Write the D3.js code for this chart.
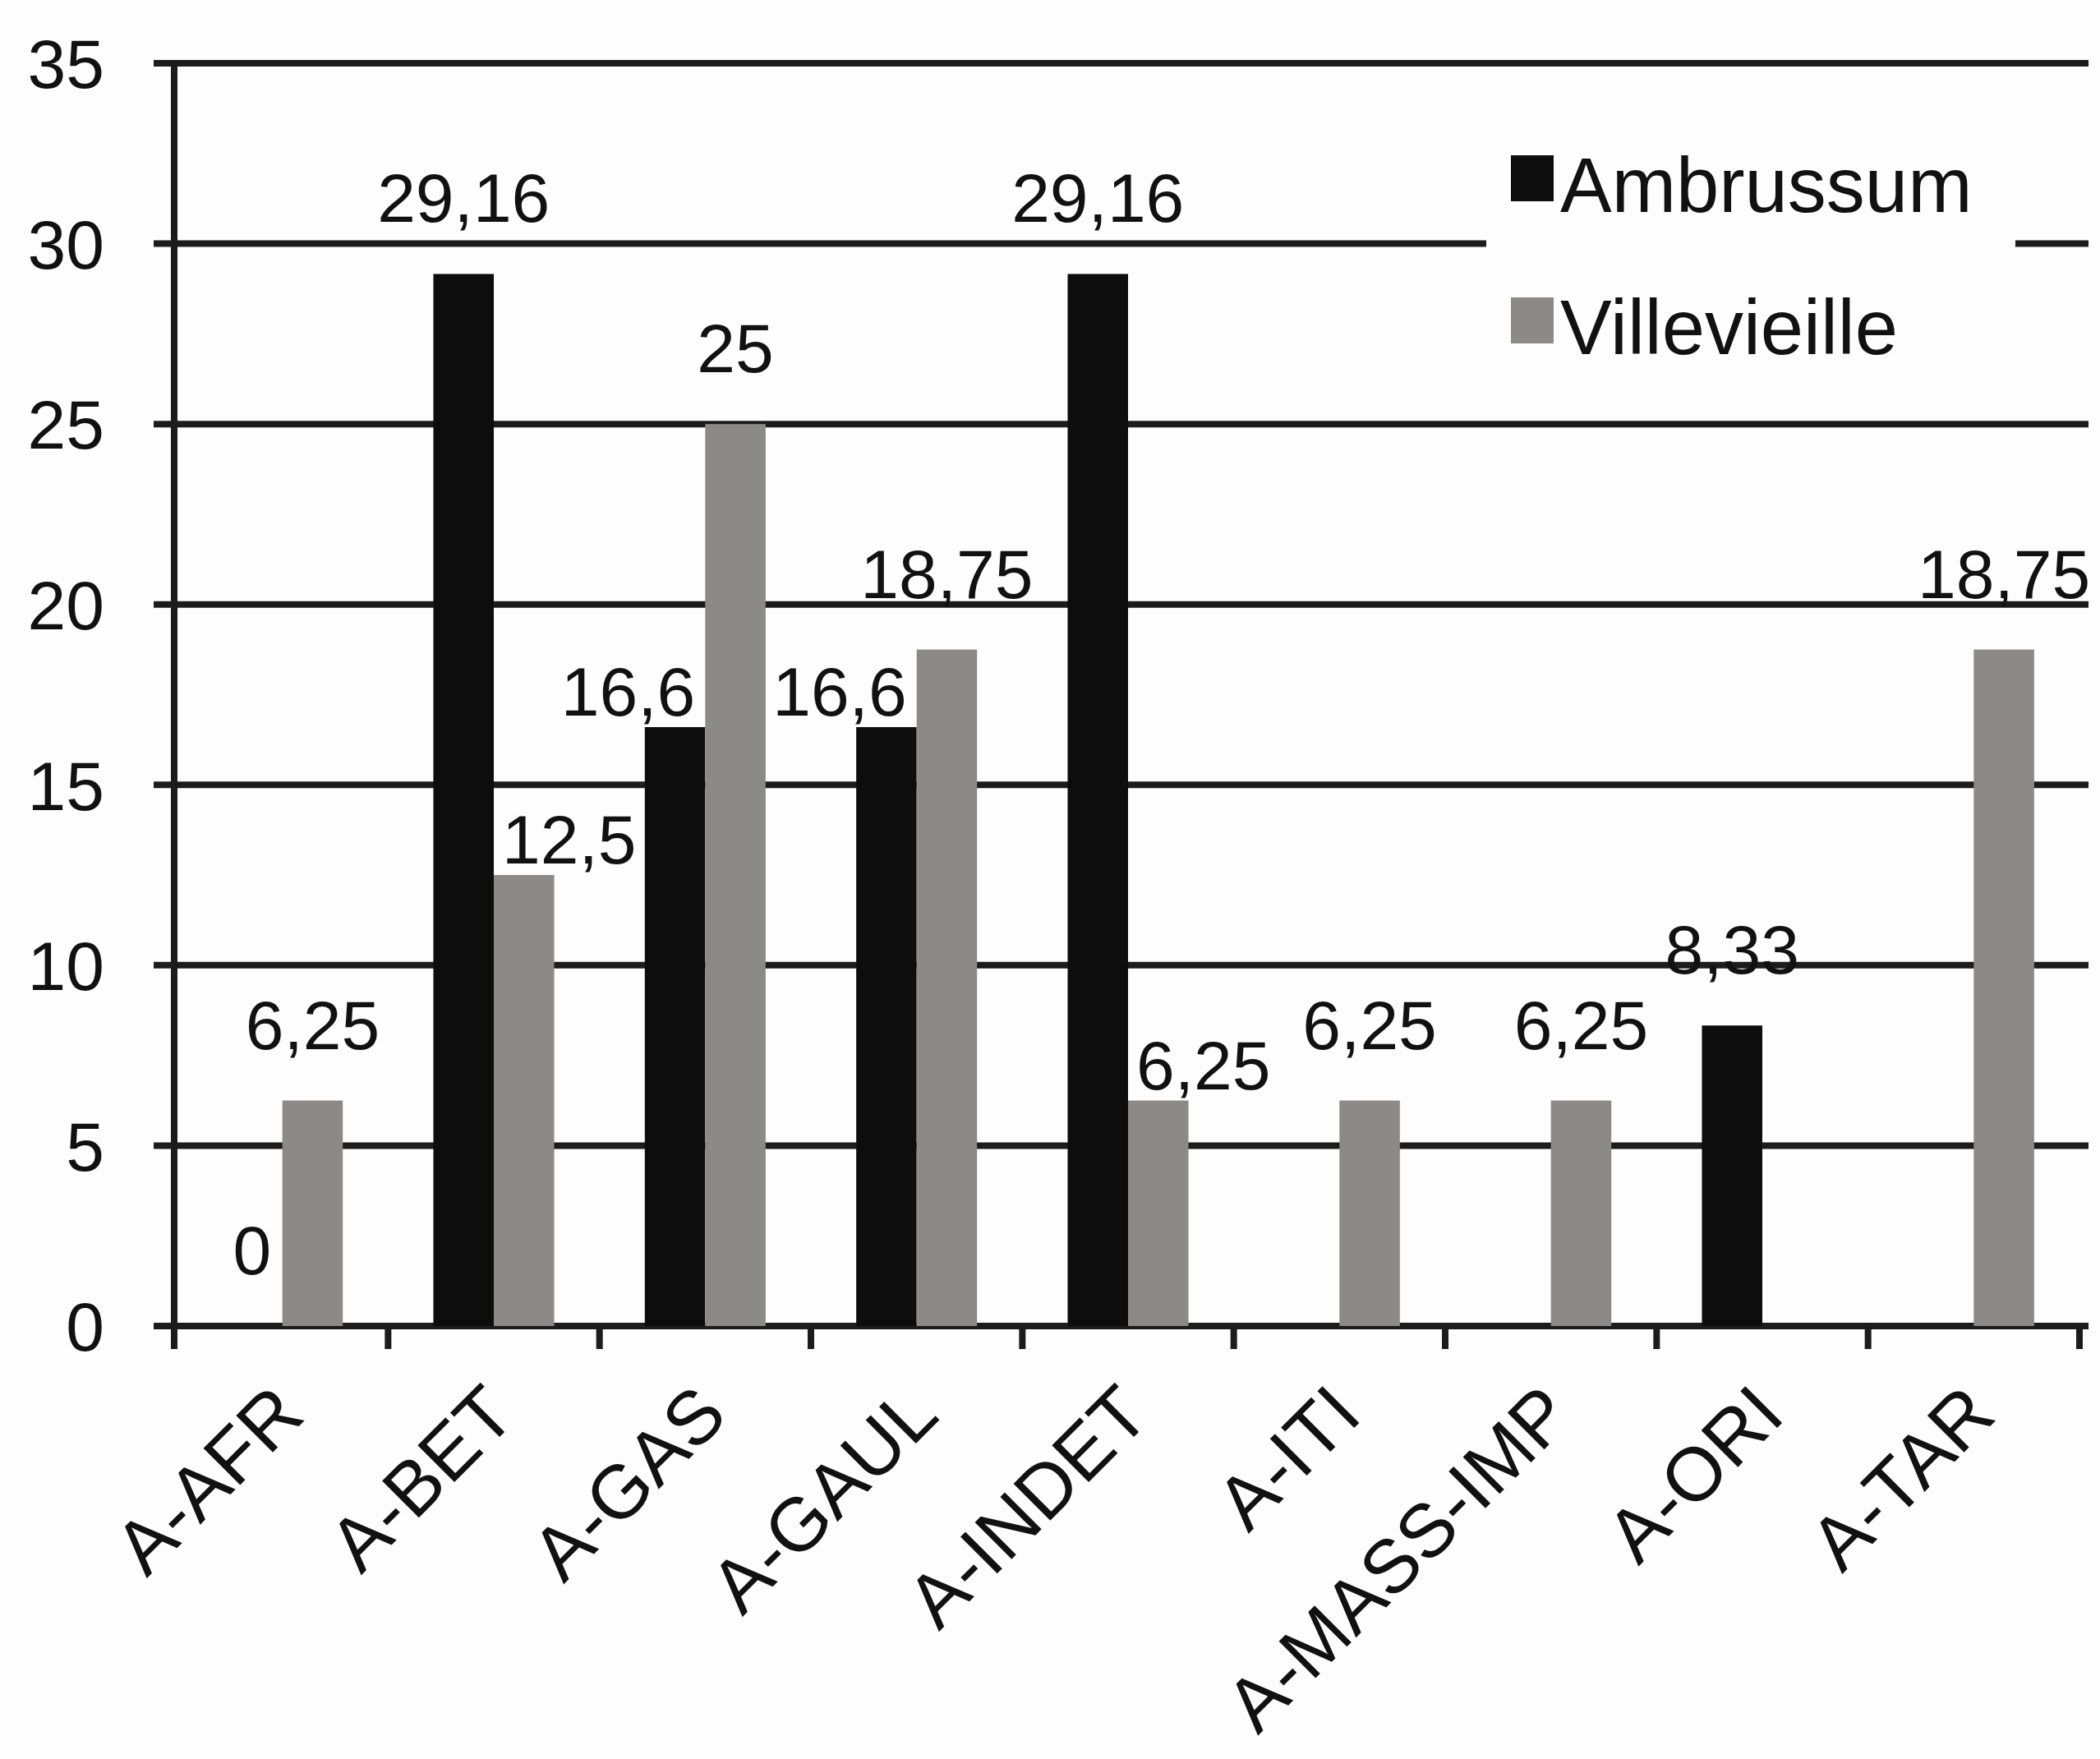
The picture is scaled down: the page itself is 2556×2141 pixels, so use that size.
<!DOCTYPE html>
<html>
<head>
<meta charset="utf-8">
<script src="https://cdn.jsdelivr.net/npm/d3@7"></script>
<style>
    body { margin: 0; background: #fdfdfd; }
    text { font-family: "Liberation Sans", Arial, sans-serif; fill: #111; }
</style>
</head>
<body>
<div id="chart"></div>
<script>
var categories = ["A-AFR", "A-BET", "A-GAS", "A-GAUL", "A-INDET", "A-ITI", "A-MASS-IMP", "A-ORI", "A-TAR"];
var seriesNames = ["Ambrussum", "Villevieille"];
var ambrussum = [0, 29.16, 16.6, 16.6, 29.16, null, null, 8.33, null];
var villevieille = [6.25, 12.5, 25, 18.75, 6.25, 6.25, 6.25, null, 18.75];
var yTicks = [0, 5, 10, 15, 20, 25, 30, 35];

var width = 2556,
    height = 2141;

var colors = {"Ambrussum": "#0d0d0d", "Villevieille": "#8b8a87"};
var lineColor = "#1c1c1c";

var svg = d3.select("#chart")
    .append("svg")
    .attr("width", width)
    .attr("height", height);

svg.append("rect")
    .attr("width", width)
    .attr("height", height)
    .attr("fill", "#fdfdfd");

var x = d3.scaleBand()
    .domain(categories)
    .range([215, 2531])
    .padding(0);

var xInner = d3.scaleBand()
    .domain(seriesNames)
    .range([0, x.bandwidth()])
    .paddingOuter(0.75);

var y = d3.scaleLinear()
    .domain([0, 35])
    .range([1614, 77]);

// gridlines
svg.append("g")
    .selectAll("line")
    .data(yTicks)
    .enter().append("line")
    .attr("x1", 187)
    .attr("x2", 2542)
    .attr("y1", function (d) { return y(d); })
    .attr("y2", function (d) { return y(d); })
    .attr("stroke", lineColor)
    .attr("stroke-width", 8);

// y tick labels
svg.append("g")
    .selectAll("text")
    .data(yTicks)
    .enter().append("text")
    .attr("x", 127)
    .attr("y", function (d) { return y(d); })
    .attr("dy", "0.36em")
    .attr("text-anchor", "end")
    .style("font-size", "84px")
    .text(function (d) { return d; });

// bars
var rows = categories.map(function (c, i) {
    return {cat: c, values: [
        {name: "Ambrussum", value: ambrussum[i], other: villevieille[i]},
        {name: "Villevieille", value: villevieille[i], other: ambrussum[i]}
    ]};
});

var groups = svg.append("g")
    .selectAll("g")
    .data(rows)
    .enter().append("g")
    .attr("transform", function (d) { return "translate(" + x(d.cat) + ",0)"; });

function present(d) {
    return d.values.filter(function (v) { return v.value !== null; });
}

groups.selectAll("rect")
    .data(present)
    .enter().append("rect")
    .attr("x", function (d) { return xInner(d.name); })
    .attr("width", xInner.bandwidth())
    .attr("y", function (d) { return y(d.value); })
    .attr("height", function (d) { return y(0) - y(d.value); })
    .attr("fill", function (d) { return colors[d.name]; });

// value labels: centred above the bar, pushed aside and down when the
// neighbouring bar is taller and the label would run into it
groups.selectAll("text")
    .data(present)
    .enter().append("text")
    .attr("text-anchor", "middle")
    .style("font-size", "84px")
    .text(function (d) { return String(d.value).replace(".", ","); })
    .each(function (d) {
        var bw = xInner.bandwidth(),
            cx = xInner(d.name) + bw / 2,
            ty = y(d.value) - 63,
            w = this.getComputedTextLength();
        if (d.other !== null && d.other > d.value && w / 2 > bw / 2) {
            if (d.name === "Ambrussum") {
                cx = xInner(d.name) + bw - 12 - w / 2;
            } else {
                cx = xInner(d.name) + 10 + w / 2;
            }
            ty = y(d.value) - 14;
        }
        d3.select(this).attr("x", cx).attr("y", ty);
    });

// axes lines
svg.append("line")
    .attr("x1", 212).attr("x2", 212)
    .attr("y1", y(35) - 4).attr("y2", y(0) + 28)
    .attr("stroke", lineColor)
    .attr("stroke-width", 8);

var tickXs = categories.map(function (c) { return x(c); }).concat([x.range()[1]]);

svg.append("g")
    .selectAll("line")
    .data(tickXs.slice(1))
    .enter().append("line")
    .attr("x1", function (d) { return d; })
    .attr("x2", function (d) { return d; })
    .attr("y1", y(0))
    .attr("y2", y(0) + 28)
    .attr("stroke", lineColor)
    .attr("stroke-width", 8);

// category labels
svg.append("g")
    .selectAll("text")
    .data(categories)
    .enter().append("text")
    .attr("transform", function (d) {
        return "translate(" + (x(d) + x.bandwidth() / 2 + 30) + "," + (y(0) + 112) + ") rotate(-45)";
    })
    .attr("text-anchor", "end")
    .style("font-size", "92px")
    .text(function (d) { return d; });

// legend
var legend = svg.append("g");

legend.append("rect")
    .attr("x", 1809)
    .attr("y", 170)
    .attr("width", 644)
    .attr("height", 290)
    .attr("fill", "#fdfdfd");

var legendItem = legend.selectAll("g")
    .data(seriesNames)
    .enter().append("g")
    .attr("transform", function (d, i) { return "translate(1839," + (189 + i * 173) + ")"; });

legendItem.append("rect")
    .attr("width", 52)
    .attr("height", 56)
    .attr("fill", function (d) { return colors[d]; });

legendItem.append("text")
    .attr("x", 60)
    .attr("y", 69)
    .style("font-size", "94px")
    .text(function (d) { return d; });
</script>
</body>
</html>
